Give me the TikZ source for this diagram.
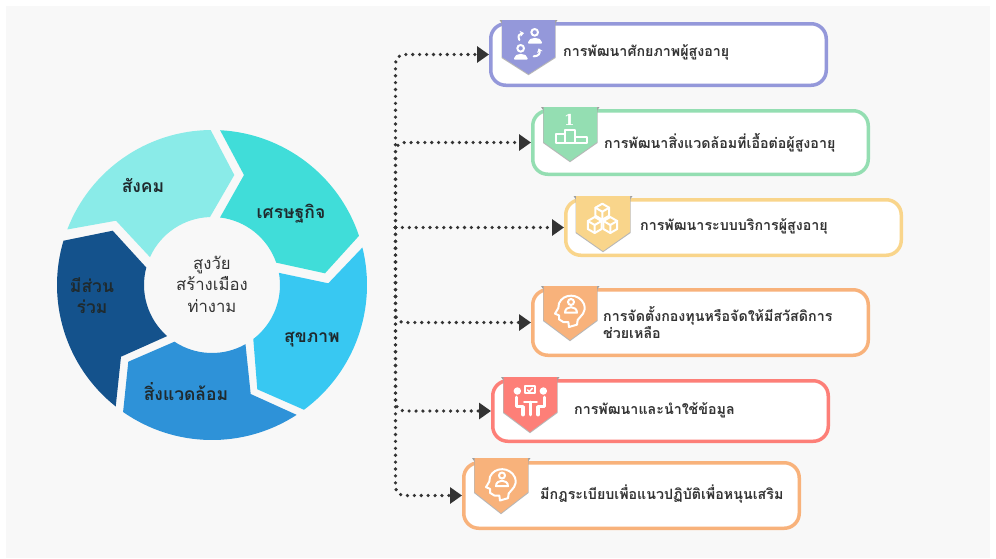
\documentclass[tikz,border=0pt]{standalone}
\usepackage{fontspec}
\usetikzlibrary{arrows.meta}
\setmainfont[Script=Thai]{Loma}
\newfontfamily\numfont{DejaVu Serif}
\definecolor{pagebg}{HTML}{F8F8F8}
\definecolor{segA}{HTML}{8AEBE8}
\definecolor{segB}{HTML}{40DDD9}
\definecolor{segC}{HTML}{38C8F2}
\definecolor{segD}{HTML}{2E92D8}
\definecolor{segE}{HTML}{14528C}
\definecolor{inkdark}{HTML}{1F2A2E}
\definecolor{inkcard}{HTML}{333333}
\definecolor{cPurple}{HTML}{9498DA}
\definecolor{cGreen}{HTML}{94DEB2}
\definecolor{cYellow}{HTML}{F9D58B}
\definecolor{cOrange}{HTML}{F8B27B}
\definecolor{cRed}{HTML}{FD7F78}
\newcommand{\badge}[7]{% x0 x1 top shoulder tipx tipy colour
  \fill[gray!75] (#1-2.5,#3) -- (#1+1,#3) -- (#1+1,#3+5) -- cycle;
  \fill[gray!75] (#2+2.5,#3) -- (#2-1,#3) -- (#2-1,#3+5) -- cycle;
  \fill[gray!70,opacity=.8] (#1-.5,#3) -- (#1-.5,#4+1) -- (#5,#6+1.2) -- (#2+.5,#4+1) -- (#2+.5,#3) -- cycle;
  \fill[#7] (#1,#3) -- (#1,#4) -- (#5,#6) -- (#2,#4) -- (#2,#3) -- cycle;
}
\newcommand{\cube}[2]{%
  \draw[iconline] ({#1},{#2-8}) -- ({#1+6.9},{#2-4}) -- ({#1+6.9},{#2+4}) -- ({#1},{#2+8}) -- ({#1-6.9},{#2+4}) -- ({#1-6.9},{#2-4}) -- cycle;
  \draw[iconline] ({#1-6.9},{#2-4}) -- ({#1},{#2}) -- ({#1+6.9},{#2-4}) ({#1},{#2}) -- ({#1},{#2+8});
}
\newcommand{\headicon}[2]{%
  \begin{scope}[shift={(#1,#2)},x=.3333pt,y=-.3333pt]
    \draw[iconline] (72,64) .. controls (85,33) and (132,33) .. (147,66) .. controls (155,92) and (138,100) .. (128,114) -- (126,128) -- (102,135) -- (100,120) -- (85,120) -- (72,112) -- (72,100) -- (60,95) -- (70,78) -- cycle;
    \draw[iconline] (108,60) circle[radius=9];
    \draw[iconline] (90,92) .. controls (90,70) and (126,70) .. (126,92) -- cycle;
  \end{scope}
}
\tikzset{
  iconline/.style={draw=white,line width=2pt,line join=round,line cap=round},
  cardbox/.style={draw=#1,fill=white,line width=3.5pt,rounded corners=15pt,inner sep=0pt},
  cardtext/.style={font=\bfseries\fontsize{14.25}{17}\selectfont,text=inkcard,anchor=west,inner sep=0pt,align=left},
  segtext/.style={font=\bfseries\fontsize{17.5}{21}\selectfont,text=inkdark,align=center,inner sep=0pt},
  dotlink/.style={draw=inkcard,line width=3.6pt,line cap=round,dash pattern=on 0pt off 6.9pt,rounded corners=9pt,-{Triangle[length=12pt,width=16pt]}},
}
\begin{document}
\begin{tikzpicture}[x=1pt,y=-1pt]
\useasboundingbox (0,0) rectangle (996,558);
\fill[white] (0,0) rectangle (996,558);
\fill[pagebg] (6,6) rectangle (990,558);

% wheel
\begin{scope}[shift={(212,285)},y=1pt]
  \fill[segA] (159:155) arc[start angle=159,end angle=90.5,radius=155] -- (22.3,110) -- (91.7:68) arc[start angle=91.7,end angle=155.8,radius=68] -- (-96,64.3) -- cycle;
  \fill[segB] (87:155) arc[start angle=87,end angle=18.5,radius=155] -- (113,11.7) -- (19.2:68) arc[start angle=19.2,end angle=83.2,radius=68] -- (32,110) -- cycle;
  \fill[segC] (14:155) arc[start angle=14,end angle=-53.6,radius=155] -- (45.3,-104.3) -- (-52.6:68) arc[start angle=-52.6,end angle=10.3,radius=68] -- (116.3,1.7) -- cycle;
  \fill[segD] (-56.9:155) arc[start angle=-56.9,end angle=-125,radius=155] -- (-83.7,-76.7) -- (-123.5:68) arc[start angle=-123.5,end angle=-60.5,radius=68] -- (38.7,-109) -- cycle;
  \fill[segE] (-128.4:155) arc[start angle=-128.4,end angle=-196.6,radius=155] -- (-99.3,54.3) -- (165.1:68) arc[start angle=165.1,end angle=228.7,radius=68] -- (-91,-71.7) -- cycle;
\end{scope}
\node[segtext] (lblA) at (143,185) {สังคม};
\node[segtext] (lblB) at (291,214) {เศรษฐกิจ};
\node[segtext] (lblC) at (312,340) {สุขภาพ};
\node[segtext] (lblD) at (186,392) {สิ่งแวดล้อม};
\node[segtext] (lblE) at (92,295.5) {มีส่วน\\ร่วม};
\node[font=\fontsize{16.7}{21.5}\selectfont,text=inkcard,align=center,inner sep=0pt] (hubtext) at (212,284) {สูงวัย\\สร้างเมือง\\ท่างาม};

% cards
\node[cardbox=cPurple,minimum width=335.5pt,minimum height=61.5pt] (card1) at (658.5,54.5) {};
\node[cardbox=cGreen,minimum width=335.5pt,minimum height=63.5pt] (card2) at (700.5,142.5) {};
\node[cardbox=cYellow,minimum width=335.5pt,minimum height=55.5pt] (card3) at (733.5,227.5) {};
\node[cardbox=cOrange,minimum width=335.5pt,minimum height=65.5pt] (card4) at (700.5,322.5) {};
\node[cardbox=cRed,minimum width=335.5pt,minimum height=60.5pt] (card5) at (660.5,411) {};
\node[cardbox=cOrange,minimum width=335.5pt,minimum height=65.5pt] (card6) at (631.5,495.5) {};

% connectors
\coordinate (hub) at (395.5,227.5);
\draw[dotlink] (hub) |- (card1.west);
\draw[dotlink] (hub) |- (card2.west);
\draw[dotlink] (hub) -- (card3.west);
\draw[dotlink] (hub) |- (card4.west);
\draw[dotlink] (hub) |- (card5.west);
\draw[dotlink] (hub) |- (card6.west);

% badges
\badge{502}{555}{20}{57}{528.5}{74}{cPurple}
\badge{543.5}{597}{107}{142}{570}{161}{cGreen}
\badge{576}{630}{196}{232}{603}{251}{cYellow}
\badge{543.5}{597}{286}{320}{570}{340}{cOrange}
\badge{503.5}{557}{377}{412}{530}{432}{cRed}
\badge{474.5}{528}{458}{492}{501}{513}{cOrange}

% icon 1
\begin{scope}[shift={(490,15)},x=.3333pt,y=-.3333pt]
  \draw[iconline] (134,52) circle[radius=10];
  \draw[iconline,fill=white] (117,83) .. controls (117,68) and (153,68) .. (153,83) -- cycle;
  \draw[iconline] (92,100) circle[radius=10];
  \draw[iconline,fill=white] (75,131) .. controls (75,116) and (110,116) .. (110,131) -- cycle;
  \draw[iconline,-{Stealth[length=4pt,width=6pt]}] (88,75) .. controls (82,62) and (88,57) .. (102,54);
  \draw[iconline,-{Stealth[length=4pt,width=6pt]}] (131,124) .. controls (146,124) and (151,115) .. (146,100);
\end{scope}

% icon 2
\begin{scope}[shift={(535,100)},x=.3333pt,y=-.3333pt]
  \node[font=\numfont\bfseries\fontsize{15}{15}\selectfont,text=white,inner sep=0pt] (rankone) at (103,60) {1};
  \draw[iconline] (62,102) rectangle (90,130);
  \draw[iconline] (90,90) rectangle (120,130);
  \draw[iconline] (120,112) rectangle (155,130);
\end{scope}

% icon 3
\cube{602.3}{211.7}
\cube{594.7}{225}
\cube{610.3}{225}

% icons 4 and 6
\headicon{535}{282}
\headicon{466}{455.5}

% icon 5
\begin{scope}[shift={(495,370)},x=.3333pt,y=-.3333pt]
  \draw[iconline,fill=white] (67,63) circle[radius=8];
  \draw[iconline,fill=white] (145,63) circle[radius=8];
  \draw[iconline] (90,48) rectangle (120,70);
  \draw[iconline,line width=1.5pt] (98,60) -- (103,65) -- (112,55);
  \draw[iconline,line width=2.8pt] (88,96) -- (125,96) (106,96) -- (106,135);
  \draw[iconline,line width=3.6pt] (64,82) -- (64,110) -- (84,110) -- (84,134);
  \draw[iconline,line width=3.6pt] (149,82) -- (149,110) -- (129,110) -- (129,134);
\end{scope}

% card text
\node[cardtext] (txt1) at (563,52.5) {การพัฒนาศักยภาพผู้สูงอายุ};
\node[cardtext] (txt2) at (604,143) {การพัฒนาสิ่งแวดล้อมที่เอื้อต่อผู้สูงอายุ};
\node[cardtext] (txt3) at (640,226) {การพัฒนาระบบบริการผู้สูงอายุ};
\node[cardtext] (txt4) at (603,322) {การจัดตั้งกองทุนหรือจัดให้มีสวัสดิการ\\ช่วยเหลือ};
\node[cardtext] (txt5) at (574,410) {การพัฒนาและนำใช้ข้อมูล};
\node[cardtext] (txt6) at (540,494) {มีกฎระเบียบเพื่อแนวปฏิบัติเพื่อหนุนเสริม};
\end{tikzpicture}
\end{document}
